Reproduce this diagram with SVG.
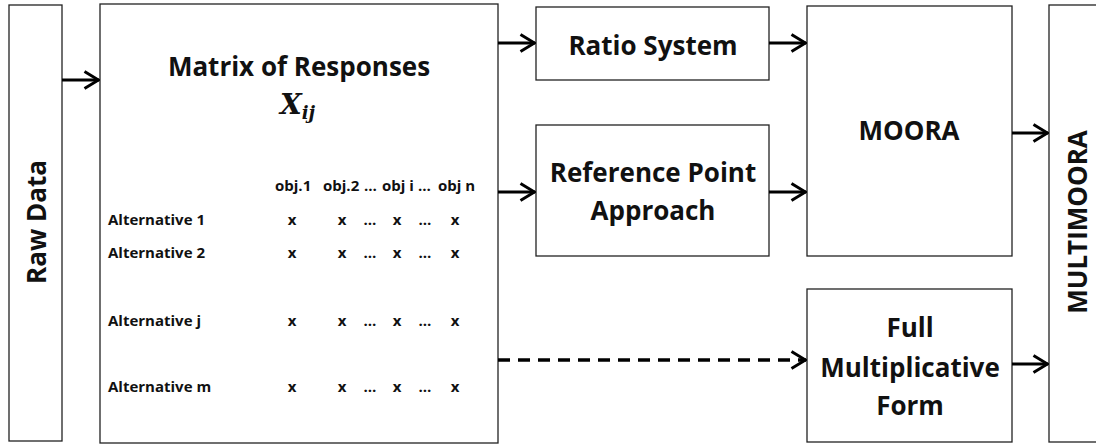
<svg xmlns="http://www.w3.org/2000/svg" width="1096" height="445" viewBox="0 0 1096 445">
<style>
.box{fill:#fff;stroke:#222;stroke-width:1.3}
.t{font-family:"Open Sans","Liberation Sans",sans-serif;font-weight:bold;fill:#111;text-anchor:middle}
.big{font-size:26px}
.sm{font-size:15px}
.smL{font-size:15px;text-anchor:start}
.c{stroke:#000;stroke-width:3;fill:none}
.dash{stroke-dasharray:12 8;stroke-width:3.5}
.math{font-family:"DejaVu Serif","Liberation Serif",serif;font-style:italic;font-weight:bold;fill:#111}
</style>
<defs>
<marker id="ah" viewBox="0 0 17 20" refX="16" refY="10" markerWidth="17" markerHeight="20" markerUnits="userSpaceOnUse" orient="auto">
<path d="M1.5,1.5 L15.5,10 L1.5,18.5" fill="none" stroke="#000" stroke-width="3"/>
</marker>
</defs>
<rect width="1096" height="445" fill="#fff"/>
<g id="raw">
<rect class="box" x="9" y="5" width="53" height="436"/>
<text class="t big" transform="translate(46,222) rotate(-90)">Raw Data</text>
</g>
<g id="matrix">
<rect class="box" x="100" y="4" width="398" height="439"/>
<text class="t big" x="299" y="76">Matrix of Responses</text>
<text class="math" x="280" y="114" font-size="28">X<tspan font-size="18" dy="5">ij</tspan></text>
<g class="t smL">
<text x="275" y="191">obj.1</text>
<text x="323" y="191">obj.2</text>
<text x="364" y="191">…</text>
<text x="382" y="191">obj i</text>
<text x="418" y="191">…</text>
<text x="438" y="191">obj n</text>
</g>
<text class="t smL" x="108" y="225">Alternative 1</text>
<text class="t smL" x="108" y="258">Alternative 2</text>
<text class="t smL" x="108" y="326">Alternative j</text>
<text class="t smL" x="108" y="392">Alternative m</text>
<g class="t sm">
<text x="292" y="225">x</text><text x="342" y="225">x</text><text x="370" y="225">…</text><text x="397" y="225">x</text><text x="425" y="225">…</text><text x="455" y="225">x</text>
<text x="292" y="258">x</text><text x="342" y="258">x</text><text x="370" y="258">…</text><text x="397" y="258">x</text><text x="425" y="258">…</text><text x="455" y="258">x</text>
<text x="292" y="326">x</text><text x="342" y="326">x</text><text x="370" y="326">…</text><text x="397" y="326">x</text><text x="425" y="326">…</text><text x="455" y="326">x</text>
<text x="292" y="392">x</text><text x="342" y="392">x</text><text x="370" y="392">…</text><text x="397" y="392">x</text><text x="425" y="392">…</text><text x="455" y="392">x</text>
</g>
</g>
<g id="ratio">
<rect class="box" x="536" y="7" width="233" height="73"/>
<text class="t big" x="653" y="55">Ratio System</text>
</g>
<g id="refpoint">
<rect class="box" x="536" y="125" width="233" height="131"/>
<text class="t big" x="653" y="182">Reference Point</text>
<text class="t big" x="653" y="220">Approach</text>
</g>
<g id="moora">
<rect class="box" x="807" y="6" width="205" height="250"/>
<text class="t big" x="909" y="140">MOORA</text>
</g>
<g id="fmf">
<rect class="box" x="807" y="289" width="205" height="153"/>
<text class="t big" x="910" y="337">Full</text>
<text class="t big" x="910" y="377">Multiplicative</text>
<text class="t big" x="910" y="415">Form</text>
</g>
<g id="multimoora">
<rect class="box" x="1049" y="5" width="60" height="437"/>
<text class="t big" transform="translate(1087,222) rotate(-90)">MULTIMOORA</text>
</g>
<g id="connectors">
<line class="c" x1="62" y1="80" x2="99" y2="80" marker-end="url(#ah)"/>
<line class="c" x1="498" y1="43" x2="535" y2="43" marker-end="url(#ah)"/>
<line class="c" x1="498" y1="192" x2="535" y2="192" marker-end="url(#ah)"/>
<line class="c dash" x1="498" y1="360" x2="806" y2="360" marker-end="url(#ah)"/>
<line class="c" x1="769" y1="43" x2="806" y2="43" marker-end="url(#ah)"/>
<line class="c" x1="769" y1="192" x2="806" y2="192" marker-end="url(#ah)"/>
<line class="c" x1="1012" y1="133" x2="1048" y2="133" marker-end="url(#ah)"/>
<line class="c" x1="1012" y1="364" x2="1048" y2="364" marker-end="url(#ah)"/>
</g>
</svg>
